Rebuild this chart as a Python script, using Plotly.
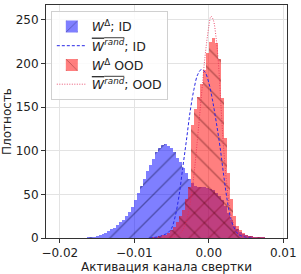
import plotly.graph_objects as go

# ---- data ----
bin_start = -0.0204
bin_width = 0.0004

# W^Δ; ID histogram (density), bins from -0.0204 to 0.0092
blue_hist = [0.1, 0.1, 0.1, 0.1, 0.1, 0.2, 0.2, 0.3, 0.4, 0.5,
             0.7, 1.0, 1.5, 2.0, 3.0, 4.5, 6.0, 8.0, 10, 12,
             15, 18, 21, 25, 30, 36, 43, 51, 60, 68,
             77, 84, 91, 98, 103, 107, 108, 106, 103, 98,
             92, 87, 80, 74, 68, 63, 60, 59, 58, 58,
             57, 56, 55, 52, 48, 43, 37, 29, 21, 14,
             10, 7, 5, 3.5, 2.5, 2.0, 1.5, 1.0, 0.8, 0.6,
             0.4, 0.3, 0.2, 0.1]

# W^Δ OOD histogram (density), bins from -0.0084 to 0.0092
red_start = -0.0084
red_hist = [0.3, 0.5, 0.8, 1.2, 2.0, 3.0, 4.0, 6.0, 9.0, 13,
            18, 25, 32, 45, 58, 130, 148, 162, 176, 192,
            212, 225, 229, 223, 205, 160, 115, 75, 45, 25,
            14, 9, 6, 3.5, 2.5, 2.0, 1.5, 1.0, 0.8, 0.6,
            0.5, 0.4, 0.3, 0.2]

# mean of random-weight histograms (lines)
blue_line_x = [-0.0080, -0.0065, -0.0055, -0.0050, -0.0045, -0.0040, -0.0035, -0.0030,
               -0.0025, -0.0020, -0.0015, -0.0010, -0.0005, 0.0000, 0.0005, 0.0010,
               0.0015, 0.0020, 0.0025, 0.0030, 0.0035, 0.0040, 0.0050, 0.0060]
blue_line_y = [0, 2, 6, 11, 25, 48, 80, 112,
               145, 170, 187, 193, 190, 178, 158, 133,
               105, 72, 42, 21, 10, 4, 1, 0]

red_line_x = [-0.0060, -0.0050, -0.0040, -0.0035, -0.0030, -0.0025, -0.0020, -0.0015,
              -0.0010, -0.0005, 0.0000, 0.0003, 0.0006, 0.0010, 0.0013, 0.0015,
              0.0020, 0.0025, 0.0030, 0.0035, 0.0040, 0.0050, 0.0060]
red_line_y = [0, 1, 4, 9, 20, 40, 72, 115,
              162, 208, 242, 254, 250, 228, 200, 172,
              102, 55, 26, 12, 5, 1.5, 0.5]

x_ticks = [-0.02, -0.01, 0.00, 0.01]
y_ticks = [0, 50, 100, 150, 200, 250]

labels = [
    "<i>W</i><sup>Δ</sup>; ID",
    "<span style=\"text-decoration:overline\"><i>W</i><sup><i>rand</i></sup></span>; ID",
    "<i>W</i><sup>Δ</sup> OOD",
    "<span style=\"text-decoration:overline\"><i>W</i><sup><i>rand</i></sup></span>; OOD",
]

blue_x = [bin_start + bin_width * (i + 0.5) for i in range(len(blue_hist))]
red_x = [red_start + bin_width * (i + 0.5) for i in range(len(red_hist))]

FONT = "DejaVu Sans"

fig = go.Figure()
fig.add_trace(go.Bar(
    x=blue_x, y=blue_hist, width=[bin_width] * len(blue_x),
    name=labels[0], legendrank=1,
    marker=dict(color="rgba(0,0,255,0.5)", line=dict(width=0),
                pattern=dict(shape="/", size=14, solidity=0.1,
                             fgcolor="rgba(0,0,40,0.75)", fillmode="overlay")),
))
fig.add_trace(go.Bar(
    x=red_x, y=red_hist, width=[bin_width] * len(red_x),
    name=labels[2], legendrank=3,
    marker=dict(color="rgba(255,0,0,0.5)", line=dict(width=0),
                pattern=dict(shape="\\", size=14, solidity=0.1,
                             fgcolor="rgba(60,0,0,0.75)", fillmode="overlay")),
))
fig.add_trace(go.Scatter(
    x=blue_line_x, y=blue_line_y, mode="lines", name=labels[1], legendrank=2,
    line=dict(color="rgb(40,40,230)", width=1, dash="3px,2px", shape="spline"),
))
fig.add_trace(go.Scatter(
    x=red_line_x, y=red_line_y, mode="lines", name=labels[3], legendrank=4,
    line=dict(color="rgba(230,40,80,0.8)", width=1, dash="1px,1.5px", shape="spline"),
))

axis_common = dict(
    showline=True, mirror=True, linecolor="#333", linewidth=1,
    ticks="outside", ticklen=4, tickcolor="#333",
    showgrid=True, gridcolor="#e3e3e3", gridwidth=1,
    zeroline=False,
    tickfont=dict(family=FONT, size=12, color="#222"),
)

fig.update_layout(
    width=301, height=274,
    margin=dict(l=43, r=13, t=4, b=31),
    paper_bgcolor="white", plot_bgcolor="white",
    barmode="overlay", bargap=0,
    font=dict(family=FONT, size=12, color="#222"),
    showlegend=True,
    legend=dict(x=0.02, y=0.975, xanchor="left", yanchor="top",
                bgcolor="rgba(255,255,255,0.85)", bordercolor="#d0d0d0", borderwidth=1,
                font=dict(family=FONT, size=12.5), itemwidth=30, tracegroupgap=0),
    xaxis=dict(range=[-0.02185, 0.0105], tickvals=x_ticks, tickformat=".2f",
               title=dict(text="Активация канала свертки", standoff=1,
                          font=dict(family=FONT, size=12)),
               **axis_common),
    yaxis=dict(range=[0, 267], tickvals=y_ticks,
               title=dict(text="Плотность", standoff=3,
                          font=dict(family=FONT, size=12)),
               **axis_common),
)

fig.write_html("out.html")
